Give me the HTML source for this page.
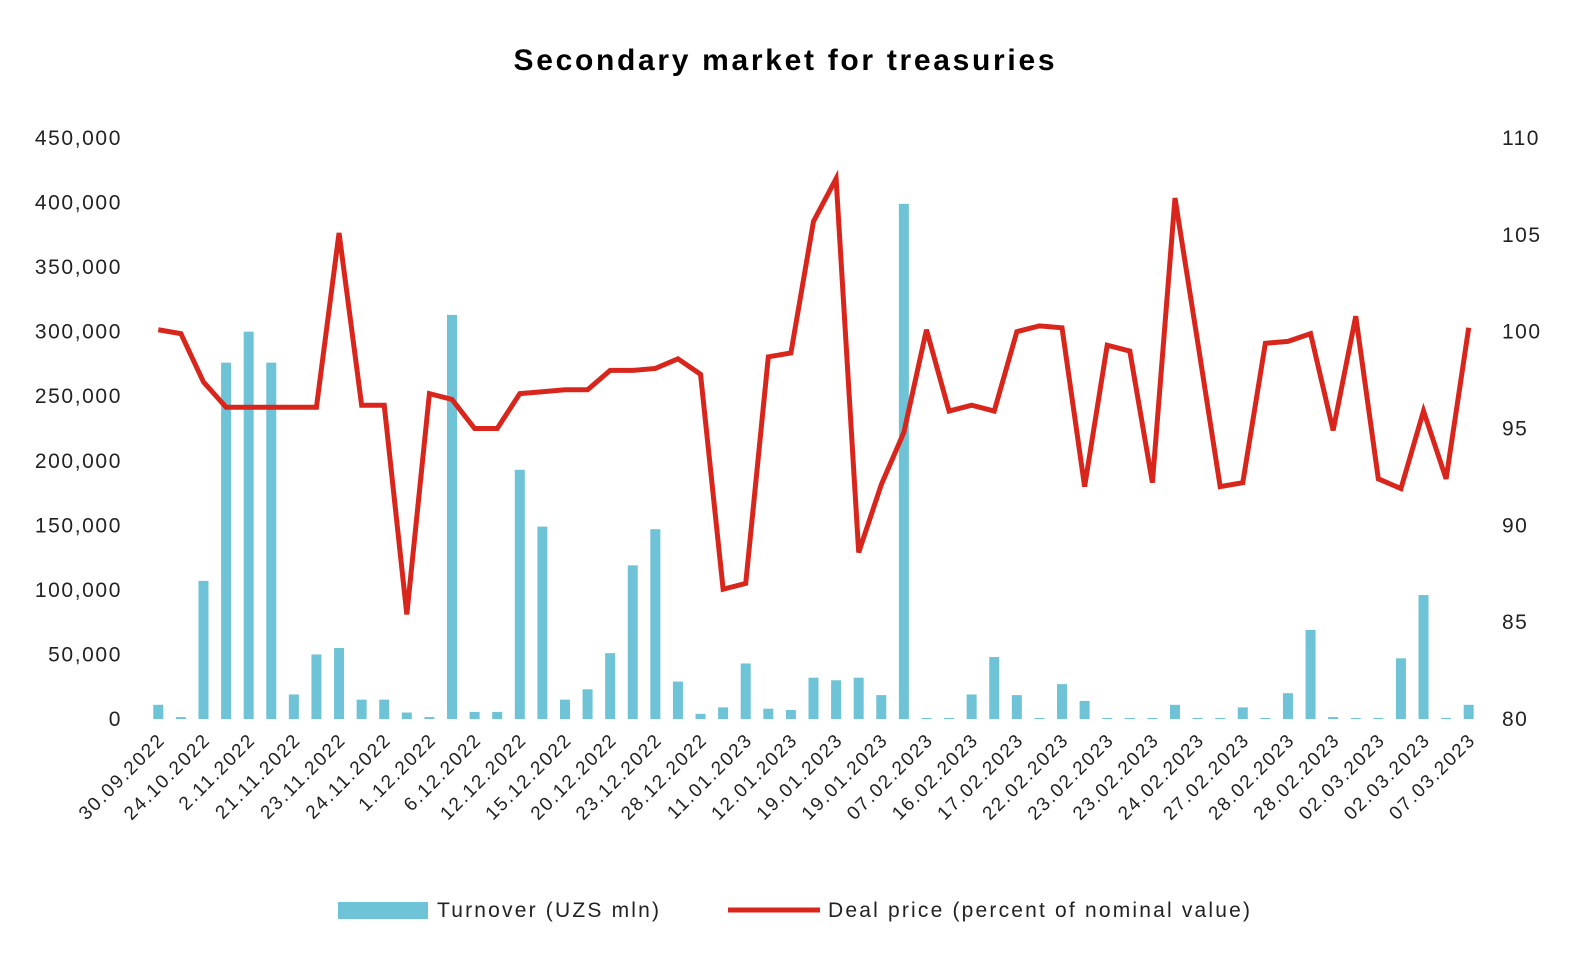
<!DOCTYPE html>
<html><head><meta charset="utf-8"><style>
body{margin:0;background:#fff}
svg{display:block;font-family:"Liberation Sans",sans-serif}
</style></head><body>
<svg id="chart" width="1571" height="955">
<text x="784" y="70" text-anchor="middle" font-size="30" font-weight="bold" textLength="541" lengthAdjust="spacing">Secondary market for treasuries</text>
<g id="bars"></g>
<g id="line"></g>
<g id="yl"></g>
<g id="yr"></g>
<g id="xl"></g>
<g>
<rect x="338" y="902" width="90" height="17" fill="#6fc3d6"/>
<text x="437" y="917" font-size="21" fill="#222" textLength="222" lengthAdjust="spacing">Turnover (UZS mln)</text>
<line x1="728" y1="910" x2="820" y2="910" stroke="#d9261c" stroke-width="5"/>
<text x="828" y="917" font-size="21" fill="#222" textLength="422" lengthAdjust="spacing">Deal price (percent of nominal value)</text>
</g>
</svg>
<script>
const categories=["30.09.2022","","24.10.2022","","2.11.2022","","21.11.2022","","23.11.2022","","24.11.2022","","1.12.2022","","6.12.2022","","12.12.2022","","15.12.2022","","20.12.2022","","23.12.2022","","28.12.2022","","11.01.2023","","12.01.2023","","19.01.2023","","19.01.2023","","07.02.2023","","16.02.2023","","17.02.2023","","22.02.2023","","23.02.2023","","23.02.2023","","24.02.2023","","27.02.2023","","28.02.2023","","28.02.2023","","02.03.2023","","02.03.2023","","07.03.2023"];
const turnover=[11000,1500,107000,276000,300000,276000,19000,50000,55000,15000,15000,5000,1500,313000,5500,5500,193000,149000,15000,23000,51000,119000,147000,29000,4000,9000,43000,8000,7000,32000,30000,32000,18500,399000,800,800,19000,48000,18500,800,27000,14000,800,800,800,11000,800,800,9000,800,20000,69000,1500,800,800,47000,96000,800,11000];
const price=[100.1,99.9,97.4,96.1,96.1,96.1,96.1,96.1,105.1,96.2,96.2,85.4,96.8,96.5,95.0,95.0,96.8,96.9,97.0,97.0,98.0,98.0,98.1,98.6,97.8,86.7,87.0,98.7,98.9,105.7,107.9,88.6,92.1,94.8,100.1,95.9,96.2,95.9,100.0,100.3,100.2,92.0,99.3,99.0,92.2,106.9,99.5,92.0,92.2,99.4,99.5,99.9,94.9,100.8,92.4,91.9,95.9,92.4,100.2];
const leftTicks=[0,50000,100000,150000,200000,250000,300000,350000,400000,450000];
const rightTicks=[80,85,90,95,100,105,110];
const NS="http://www.w3.org/2000/svg";
const L=147,R=1480,T=138,B=719;
const step=(R-L)/categories.length;
const xs=i=>L+step*(i+0.5);
const yL=v=>B-(v/450000)*(B-T);
const yR=v=>B-((v-80)/30)*(B-T);
function mk(tag,attrs,parent){const e=document.createElementNS(NS,tag);for(const k in attrs)e.setAttribute(k,attrs[k]);parent.appendChild(e);return e;}
const gb=document.getElementById('bars');
turnover.forEach((v,i)=>{const r=mk('rect',{x:xs(i)-5,y:yL(v),width:10,height:B-yL(v),fill:'#6fc3d6'},gb);

});
const gl=document.getElementById('line');
const p=mk('polyline',{points:price.map((v,i)=>xs(i)+','+yR(v)).join(' '),fill:'none',stroke:'#d9261c','stroke-width':5,'stroke-linejoin':'miter'},gl);


const gyl=document.getElementById('yl');
leftTicks.forEach(v=>{const t=mk('text',{x:122,y:yL(v)+7,'text-anchor':'end','font-size':21,'letter-spacing':'1.6',fill:'#222'},gyl);t.textContent=v.toLocaleString('en-US');

});
const gyr=document.getElementById('yr');
rightTicks.forEach(v=>{const t=mk('text',{x:1502,y:yR(v)+7,'font-size':21,'letter-spacing':'1.5',fill:'#222'},gyr);t.textContent=v;

});
const gx=document.getElementById('xl');
categories.forEach((c,i)=>{if(!c)return;const x=xs(i)+8,y=B+22;const t=mk('text',{x:x,y:y,'text-anchor':'end','font-size':19,'letter-spacing':'1.8',fill:'#222',transform:`rotate(-45 ${x} ${y})`},gx);t.textContent=c;

});
</script>
</body></html>
